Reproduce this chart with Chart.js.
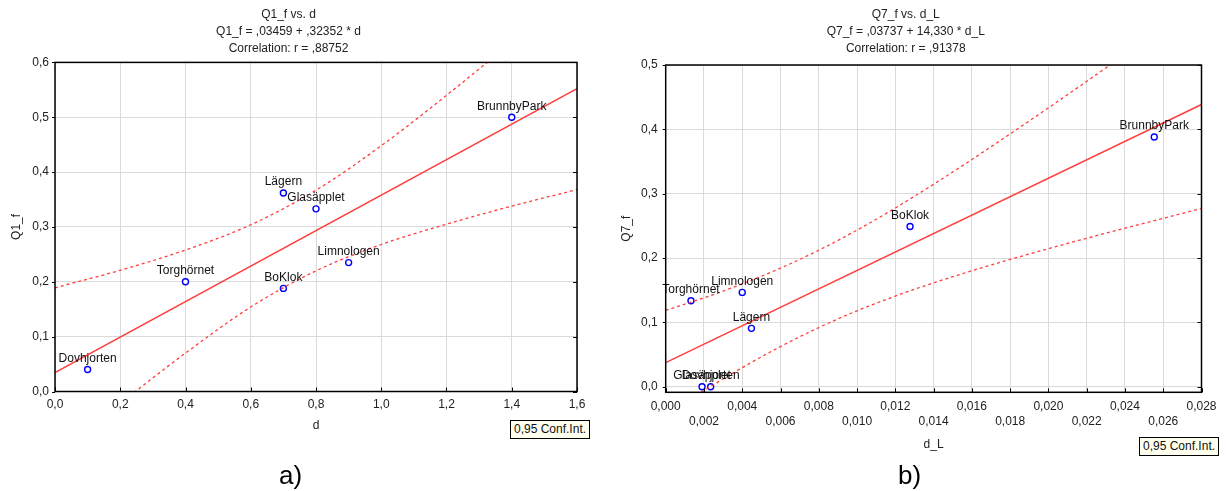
<!DOCTYPE html>
<html><head><meta charset="utf-8">
<script src="https://cdn.jsdelivr.net/npm/chart.js@4.4.1/dist/chart.umd.min.js"></script>
<style>
html,body{margin:0;padding:0;background:#fff;width:1228px;height:491px;overflow:hidden;font-family:"Liberation Sans",Arial,sans-serif}
.wrap{position:absolute;top:0}
.box{position:absolute;border:1px solid #000;background:#fffff0;font-size:12px;line-height:17px;padding:0 3px;color:#111;white-space:nowrap}
.lab{position:absolute;font-size:26px;line-height:26px;color:#000}
</style></head><body>
<div class="wrap" style="left:0;width:600px;height:491px"><canvas id="c1" width="600" height="491"></canvas></div>
<div class="wrap" style="left:610px;width:616px;height:491px"><canvas id="c2" width="616" height="491"></canvas></div>
<div class="box" style="left:510px;top:420px">0,95 Conf.Int.</div>
<div class="box" style="left:1139px;top:437px">0,95 Conf.Int.</div>
<div class="lab" style="left:279px;top:462px">a)</div>
<div class="lab" style="left:898px;top:462px">b)</div>
<script>
// ---------- Chart a) Q1_f vs d ----------
const q1Title = ['Q1_f vs. d', 'Q1_f = ,03459 + ,32352 * d', 'Correlation: r = ,88752'];
const q1Names = ['Dovhjorten','Torghörnet','BoKlok','Lägern','Glasäpplet','Limnologen','BrunnbyPark'];
const q1D = [0.1, 0.4, 0.7, 0.7, 0.8, 0.9, 1.4];
const q1F = [0.040, 0.200, 0.188, 0.362, 0.333, 0.235, 0.500];
const q1FitX = [0, 1.6];
const q1FitY = [0.0346, 0.5522];
const q1BandX = [0, 0.2, 0.4, 0.6, 0.8, 1.0, 1.2, 1.4, 1.6];
const q1Upper = [0.189, 0.221, 0.258, 0.304, 0.367, 0.448, 0.540, 0.637, 0.736];
const q1Lower = [-0.120, -0.022, 0.070, 0.154, 0.220, 0.268, 0.305, 0.338, 0.368];
const q1XTicks = [0, 0.2, 0.4, 0.6, 0.8, 1.0, 1.2, 1.4, 1.6];
const q1XLabels = ['0,0','0,2','0,4','0,6','0,8','1,0','1,2','1,4','1,6'];
const q1YTicks = [0, 0.1, 0.2, 0.3, 0.4, 0.5, 0.6];
const q1YLabels = ['0,0','0,1','0,2','0,3','0,4','0,5','0,6'];

// ---------- Chart b) Q7_f vs d_L ----------
const q7Title = ['Q7_f vs. d_L', 'Q7_f = ,03737 + 14,330 * d_L', 'Correlation: r = ,91378'];
const q7Names = ['Torghörnet','Limnologen','Lägern','Glasäpplet','Dovhjorten','BoKlok','BrunnbyPark'];
const q7DL = [0.00132, 0.0040, 0.00448, 0.0019, 0.00235, 0.01277, 0.02553];
const q7F = [0.1335, 0.1466, 0.0907, 0.0, 0.0, 0.249, 0.388];
const q7FitX = [0, 0.028];
const q7FitY = [0.0374, 0.4386];
const q7BandX = [0, 0.002, 0.004, 0.006, 0.008, 0.010, 0.012, 0.014, 0.016, 0.018, 0.020, 0.022, 0.024, 0.026, 0.028];
const q7Upper = [0.1186, 0.1381, 0.1598, 0.1843, 0.2121, 0.2434, 0.2778, 0.3146, 0.3531, 0.3929, 0.4334, 0.4746, 0.5162, 0.5581, 0.6002];
const q7Lower = [-0.0438, -0.0061, 0.0296, 0.0624, 0.0919, 0.1180, 0.1408, 0.1614, 0.1802, 0.1978, 0.2145, 0.2307, 0.2464, 0.2618, 0.2770];
const q7XTicks = [0, 0.002, 0.004, 0.006, 0.008, 0.010, 0.012, 0.014, 0.016, 0.018, 0.020, 0.022, 0.024, 0.026, 0.028];
const q7XLabels = ['0,000','0,002','0,004','0,006','0,008','0,010','0,012','0,014','0,016','0,018','0,020','0,022','0,024','0,026','0,028'];
const q7YTicks = [0, 0.1, 0.2, 0.3, 0.4, 0.5];
const q7YLabels = ['0,0','0,1','0,2','0,3','0,4','0,5'];

const FONT = '"Liberation Sans", Arial, sans-serif';
const RED = '#ff3d3d';
const GRID = '#dadada';

const pts = (xs, ys) => xs.map((x, i) => ({x, y: ys[i]}));

const labelPlugin = {
  id: 'ptLabels',
  afterDatasetsDraw(chart) {
    const names = chart.options.plugins.ptLabels.names;
    const meta = chart.getDatasetMeta(3);
    const ctx = chart.ctx;
    ctx.save();
    ctx.font = '12px ' + FONT;
    ctx.fillStyle = '#111';
    ctx.textAlign = 'center';
    ctx.textBaseline = 'middle';
    meta.data.forEach((el, i) => ctx.fillText(names[i], el.x, el.y - 11));
    ctx.restore();
  }
};

const framePlugin = {
  id: 'frame',
  afterDraw(chart) {
    const {ctx, chartArea: a, scales} = chart;
    ctx.save();
    ctx.strokeStyle = '#000';
    ctx.lineWidth = 1.5;
    ctx.strokeRect(a.left, a.top, a.right - a.left, a.bottom - a.top);
    ctx.lineWidth = 1;
    ctx.beginPath();
    scales.y.ticks.forEach(t => {
      const py = Math.round(scales.y.getPixelForValue(t.value)) + 0.5;
      ctx.moveTo(a.right - 4, py); ctx.lineTo(a.right, py);
      ctx.moveTo(a.left - 3, py); ctx.lineTo(a.left, py);
    });
    scales.x.ticks.forEach(t => {
      const px = Math.round(scales.x.getPixelForValue(t.value)) + 0.5;
      ctx.moveTo(px, a.bottom - 4); ctx.lineTo(px, a.bottom);
    });
    ctx.stroke();
    ctx.restore();
  }
};

function makeChart(id, o) {
  return new Chart(document.getElementById(id), {
    type: 'scatter',
    data: {
      datasets: [
        {data: pts(o.bandX, o.upper), showLine: true, borderColor: RED, borderWidth: 1.3, borderDash: [3, 3], pointRadius: 0, cubicInterpolationMode: 'monotone'},
        {data: pts(o.bandX, o.lower), showLine: true, borderColor: RED, borderWidth: 1.3, borderDash: [3, 3], pointRadius: 0, cubicInterpolationMode: 'monotone'},
        {data: pts(o.fitX, o.fitY), showLine: true, borderColor: RED, borderWidth: 1.4, pointRadius: 0},
        {data: pts(o.px, o.py), showLine: false, pointRadius: 3, pointBorderWidth: 1.4, pointBorderColor: '#0000ff', pointBackgroundColor: '#ffffff'}
      ]
    },
    options: {
      responsive: false,
      animation: false,
      devicePixelRatio: 1,
      layout: {padding: {left: 0, right: o.padRight, top: 0, bottom: o.padBottom}},
      plugins: {
        legend: {display: false},
        tooltip: {enabled: false},
        title: {display: true, text: o.title, color: '#222', font: {family: FONT, size: 12, weight: 'normal', lineHeight: 17 / 12}, padding: o.titlePad},
        ptLabels: {names: o.names}
      },
      scales: {
        x: {
          type: 'linear', min: o.xMin, max: o.xMax,
          afterFit: s => { s.height = o.xAxisH; },
          afterBuildTicks: s => { s.ticks = o.xTicks.map(v => ({value: v})); },
          grid: {color: GRID, lineWidth: 1, drawTicks: false},
          border: {display: false},
          ticks: {autoSkip: false, maxRotation: 0, minRotation: 0, padding: o.xTickPad, color: '#222',
                  font: {family: FONT, size: 12, lineHeight: 1.25},
                  callback: (v, i) => o.xLabel(i)},
          title: {display: true, text: o.xTitle, color: '#222', font: {family: FONT, size: 12}, padding: {top: 0, bottom: 1}}
        },
        y: {
          type: 'linear', min: o.yMin, max: o.yMax,
          afterFit: s => { s.width = o.yAxisW; },
          afterBuildTicks: s => { s.ticks = o.yTicks.map(v => ({value: v})); },
          grid: {color: GRID, lineWidth: 1, drawTicks: false},
          border: {display: false},
          ticks: {padding: o.yTickPad, color: '#222', font: {family: FONT, size: 12},
                  callback: (v, i) => o.yLabels[i]},
          title: {display: true, text: o.yTitle, color: '#222', font: {family: FONT, size: 12}, padding: {top: 9, bottom: 0}}
        }
      }
    },
    plugins: [labelPlugin, framePlugin]
  });
}

makeChart('c1', {
  title: q1Title, names: q1Names, px: q1D, py: q1F,
  fitX: q1FitX, fitY: q1FitY, bandX: q1BandX, upper: q1Upper, lower: q1Lower,
  xMin: 0, xMax: 1.6, yMin: 0, yMax: 0.6,
  xTicks: q1XTicks, xLabel: i => q1XLabels[i], yTicks: q1YTicks, yLabels: q1YLabels,
  xTitle: 'd', yTitle: 'Q1_f',
  padRight: 23, padBottom: 56.8, xAxisH: 42.7, yAxisW: 55,
  titlePad: {top: 6, bottom: 5.4}, xTickPad: 6, yTickPad: 6
});

makeChart('c2', {
  title: q7Title, names: q7Names, px: q7DL, py: q7F,
  fitX: q7FitX, fitY: q7FitY, bandX: q7BandX, upper: q7Upper, lower: q7Lower,
  xMin: 0, xMax: 0.028, yMin: -0.0087, yMax: 0.5,
  xTicks: q7XTicks, xLabel: i => (i % 2 === 0 ? q7XLabels[i] : ['', q7XLabels[i]]),
  yTicks: q7YTicks, yLabels: q7YLabels,
  xTitle: 'd_L', yTitle: 'Q7_f',
  padRight: 24.5, padBottom: 38.3, xAxisH: 60.4, yAxisW: 55.7,
  titlePad: {top: 6.5, bottom: 7.5}, xTickPad: 7, yTickPad: 8
});
</script>
</body></html>
